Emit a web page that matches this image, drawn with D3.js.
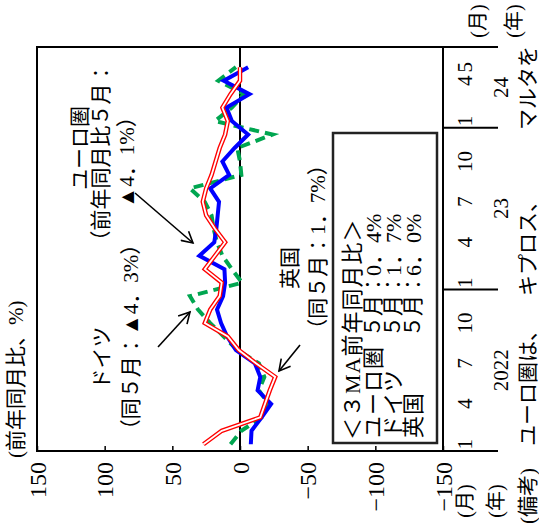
<!DOCTYPE html>
<html><head><meta charset="utf-8">
<script src="https://cdn.jsdelivr.net/npm/d3@7"></script>
<style>
html,body{margin:0;padding:0;background:#fff;overflow:hidden}
svg{display:block}
text{font-family:"Liberation Serif","Noto Sans CJK JP",serif;fill:#000}
</style></head><body>
<svg id="c" width="539" height="526"></svg>
<script>
// ---- data (months Jan 2022 .. May 2024) ----
const monthLabels = ["1","","","4","","","7","","","10","","","1","","","4","","","7","","","10","","","1","","","4","5"];
const yearLabels = ["2022","23","24"];
const yearStarts = [0,12,24];
const valueTicks = [150,100,50,0,-50,-100,-150];
const euroArea = [-8,-8.5,-16,-23,-13,-15,-11,3,9.5,14,17,12.5,11,11.5,30,19,17.5,16.5,15.5,22,8,13,4,-6,6,10,-7,12,-6];
const germany  = [7,-1,-16,-21,-14,-18,-14,2,12,22,31,37,-1.5,6,13,17,19.5,21,26,37,-1,0,2,-24,18.5,6,-3,16,3];
const uk       = [27,13.5,-15,-18.5,-22,-26,-12,1,9,26,22,15,13.5,26,18.5,11,18.5,25,27.5,25,21,18,15,11,9,13,7,0,0];
const legendTitle = "＜３MA前年同月比＞";
const legendNames = ["ユーロ圏","ドイツ","英国"];
const legendValues = ["0．4%","1．7%","6．0%"];
const notePieces = ["(備考)","ユーロ圏は、","キプロス、","マルタを"];

const svg = d3.select("#c");
// whole chart is drawn unrotated (u across, v down) then turned 90° counter‑clockwise
const g = svg.append("g").attr("transform","translate(0,526) rotate(-90)");
const P = {l:75, r:479, t:37, b:443};
const x = d3.scaleBand().domain(d3.range(30)).range([P.l,P.r]);
const cx = i => x(i) + x.bandwidth()/2;
const y = d3.scaleLinear().domain([-150,150]).range([P.b,P.t]);

// title
g.append("text").attr("x",68).attr("y",16).attr("dominant-baseline","central")
  .style("font-size","21px").text("(前年同月比、%)");

// value axis
const ya = g.append("g").attr("transform",`translate(${P.l},0)`)
  .call(d3.axisLeft(y).tickValues(valueTicks).tickSize(-5).tickPadding(11)
    .tickFormat(d => d < 0 ? "−" + Math.abs(d) : d));
ya.select(".domain").remove();
ya.selectAll("line").attr("stroke","#000").attr("stroke-width",1.5);
ya.selectAll("text").style("font-size","24px").style("font-family","Liberation Serif")
  .attr("dy",null).attr("dominant-baseline","central");

// month axis
const xa = g.append("g").attr("transform",`translate(0,${P.b})`)
  .call(d3.axisBottom(x).tickSize(0).tickFormat(i => monthLabels[i] || ""));
xa.select(".domain").remove();
xa.selectAll("text").style("font-size","21px").style("font-family","Liberation Serif")
  .attr("y",22).attr("dy",null).attr("dominant-baseline","central");

// year separators & labels
const bounds = yearStarts.map(i => x(i)).concat([P.r]);
g.selectAll(".ysep").data(bounds).join("line").attr("class","ysep")
  .attr("x1",d=>d).attr("x2",d=>d).attr("y1",P.b).attr("y2",498)
  .attr("stroke","#000").attr("stroke-width",2);
g.selectAll(".ylab").data(yearLabels).join("text").attr("class","ylab")
  .attr("x",(d,i)=>(bounds[i]+bounds[i+1])/2).attr("y",501)
  .attr("text-anchor","middle").attr("dominant-baseline","central")
  .style("font-size","21px").text(d=>d);
[[25,465,496],[505,478,514]].forEach(([u,vm,vy])=>{
  g.append("text").attr("x",u).attr("y",vm).attr("text-anchor","middle").attr("dominant-baseline","central").style("font-size","20px").text("(月)");
  g.append("text").attr("x",u).attr("y",vy).attr("text-anchor","middle").attr("dominant-baseline","central").style("font-size","20px").text("(年)");
});
// note along the right edge
const noteStarts = [2,80,230,396];
notePieces.forEach((t,k)=>g.append("text").attr("x",noteStarts[k]).attr("y",528)
  .attr("dominant-baseline","central").style("font-size","21px").text(t));

// frame & zero line
g.append("rect").attr("x",P.l).attr("y",P.t).attr("width",P.r-P.l).attr("height",P.b-P.t)
  .attr("fill","none").attr("stroke","#000").attr("stroke-width",2);
g.append("line").attr("x1",P.l).attr("x2",P.r).attr("y1",y(0)).attr("y2",y(0))
  .attr("stroke","#000").attr("stroke-width",2);

// series
const line = d3.line().x((d,i)=>cx(i)).y(d=>y(d));
g.append("path").datum(germany).attr("d",line).attr("fill","none")
  .attr("stroke","#00a650").attr("stroke-width",4).attr("stroke-dasharray","10,6");
g.append("path").datum(euroArea).attr("d",line).attr("fill","none")
  .attr("stroke","#0000ff").attr("stroke-width",4);
g.append("path").datum(uk).attr("d",line).attr("fill","none")
  .attr("stroke","#ff0000").attr("stroke-width",4.5);
g.append("path").datum(uk).attr("d",line).attr("fill","none")
  .attr("stroke","#fff").attr("stroke-width",1.8);

// legend box
g.append("rect").attr("x",83).attr("y",333).attr("width",310).attr("height",104)
  .attr("fill","#fff").attr("stroke","#222").attr("stroke-width",2.5);
g.append("text").attr("x",86).attr("y",352).attr("dominant-baseline","central")
  .style("font-size","22px").style("letter-spacing","1px").text(legendTitle);
legendNames.forEach((n,k)=>{
  const v = 373 + k*20;
  g.append("text").attr("x",88).attr("y",v).attr("dominant-baseline","central").style("font-size","22px").style("letter-spacing","1px").text(n);
  g.append("text").attr("x",189).attr("y",v).attr("dominant-baseline","central").style("font-size","21px").text("５月：");
  g.append("text").attr("x",250).attr("y",v).attr("dominant-baseline","central").style("font-size","22px").text(legendValues[k]);
});

// annotations
const ann = (u,v,t,fs) => g.append("text").attr("x",u).attr("y",v).attr("text-anchor","middle")
  .attr("dominant-baseline","central").style("font-size",(fs||21)+"px").text(t);
ann(378,80,"ユーロ圏");
ann(369,101,"（前年同月比５月：");
ann(369,127,"▲4．1%）");
ann(168,102,"ドイツ");
ann(189,131,"（同５月：▲4．3%）");
ann(258,290,"英国");
ann(279,318,"（同５月：1．7%）");

// arrows
const defs = svg.append("defs");
defs.append("marker").attr("id","ah").attr("viewBox","-12 -7 14 14").attr("refX",0).attr("refY",0)
  .attr("markerWidth",14).attr("markerHeight",14).attr("markerUnits","userSpaceOnUse").attr("orient","auto")
  .append("path").attr("d","M-11,-6 L0,0 L-11,6").attr("fill","none").attr("stroke","#000").attr("stroke-width",1.6);
const arrows = [[333,135,283,193],[179,158,214,190],[181,300,155,279]];
arrows.forEach(a=>g.append("line").attr("x1",a[0]).attr("y1",a[1]).attr("x2",a[2]).attr("y2",a[3])
  .attr("stroke","#000").attr("stroke-width",1.6).attr("marker-end","url(#ah)"));
</script></body></html>
